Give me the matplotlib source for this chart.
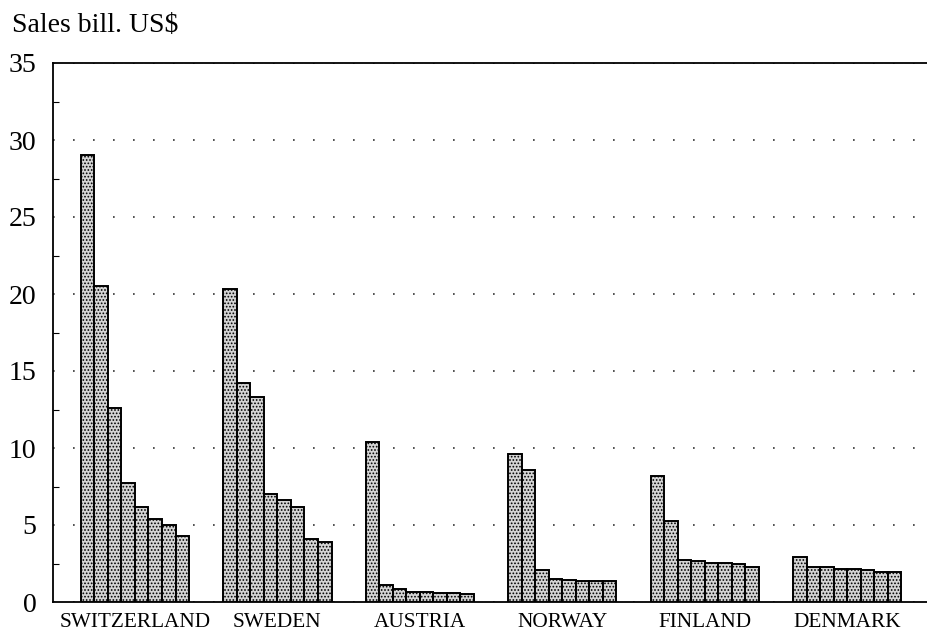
import numpy as np
import matplotlib.pyplot as plt
from matplotlib.ticker import MultipleLocator

countries = ['SWITZERLAND', 'SWEDEN', 'AUSTRIA', 'NORWAY', 'FINLAND', 'DENMARK']

# sales per company, 8 biggest per country (bill. US$)
switzerland = [29.0, 20.5, 12.6, 7.7, 6.2, 5.4, 5.0, 4.3]
sweden = [20.3, 14.2, 13.3, 7.0, 6.6, 6.2, 4.1, 3.9]
austria = [10.4, 1.1, 0.86, 0.65, 0.65, 0.6, 0.6, 0.55]
norway = [9.6, 8.6, 2.05, 1.5, 1.4, 1.35, 1.35, 1.35]
finland = [8.15, 5.25, 2.75, 2.65, 2.55, 2.55, 2.45, 2.25]
denmark = [2.95, 2.25, 2.25, 2.15, 2.15, 2.05, 1.95, 1.95]

sales = [switzerland, sweden, austria, norway, finland, denmark]

plt.rcParams['font.family'] = ['Liberation Serif', 'DejaVu Serif']
plt.rcParams['hatch.linewidth'] = 0.8

fig = plt.figure(figsize=(9.27, 6.37), dpi=100)
ax = fig.add_axes([53 / 927, 1 - 602 / 637, 1 - 53 / 927, (602 - 63) / 637])

w = 0.095
for i, vals in enumerate(sales):
    n = len(vals)
    xs = i + (np.arange(n) - (n - 1) / 2) * w
    ax.bar(xs, vals, width=w, facecolor='#d4d4d4', edgecolor='black',
           hatch='.....', linewidth=1.4, zorder=3)

ax.set_xlim(-0.575, 5.56)
ax.set_ylim(0, 35)

ax.set_xticks(range(len(countries)))
ax.set_xticklabels(countries, fontsize=15.3)
ax.tick_params(axis='x', length=0, pad=8)

ax.yaxis.set_major_locator(MultipleLocator(5))
ax.yaxis.set_minor_locator(MultipleLocator(2.5))
ax.tick_params(axis='y', which='major', length=0, labelsize=20, pad=12)
ax.tick_params(axis='y', which='minor', length=4, direction='in', width=0.8)

ax.grid(axis='y', which='major', linestyle=(0, (1, 11)), color='#333333',
        linewidth=1.2, zorder=0)

ax.spines['right'].set_visible(False)
for s in ['left', 'top', 'bottom']:
    ax.spines[s].set_linewidth(1.3)

fig.text(12 / 927, 1 - 32 / 637, r'Sales bill. US\$', fontsize=20,
         va='baseline', ha='left')

fig.savefig('out.png', dpi=100)
